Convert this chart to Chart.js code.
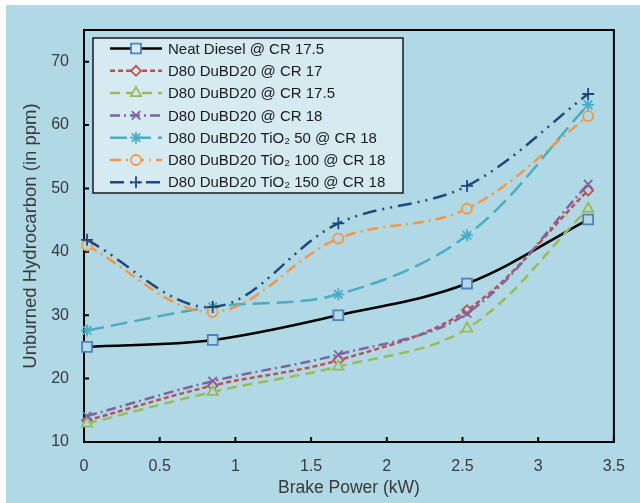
<!DOCTYPE html>
<html>
<head>
<meta charset="utf-8">
<script src="https://cdn.jsdelivr.net/npm/chart.js@4.4.0/dist/chart.umd.min.js"></script>
<style>
    html, body { margin: 0; padding: 0; background: #ffffff; }
    #wrap { width: 640px; height: 503px; }
</style>
</head>
<body>
<div id="wrap"><canvas id="hcChart" width="640" height="503"></canvas></div>
<script>
// ==========================================
// Unburned HC vs brake power
// ==========================================

const brakePower = [0.02, 0.85, 1.68, 2.53, 3.33];

const neatDiesel = [25.0, 26.1, 30.0, 35.0, 45.1];
const duBdCr17 = [13.4, 18.9, 22.9, 30.8, 49.7];
const duBdCr175 = [12.9, 17.9, 21.9, 27.9, 46.8];
const duBdCr18 = [14.1, 19.6, 23.8, 30.3, 50.7];
const tio2At50 = [27.6, 31.3, 33.3, 42.6, 63.2];
const tio2At100 = [41.0, 30.5, 42.1, 46.8, 61.4];
const tio2At150 = [41.9, 31.3, 44.5, 50.4, 64.9];

const seriesLabels = [
    "Neat Diesel @ CR 17.5",
    "D80 DuBD20 @ CR 17",
    "D80 DuBD20 @ CR 17.5",
    "D80 DuBD20 @ CR 18",
    "D80 DuBD20 TiO\u2082 50 @ CR 18",
    "D80 DuBD20 TiO\u2082 100 @ CR 18",
    "D80 DuBD20 TiO\u2082 150 @ CR 18"
];

const xTicks = [0, 0.5, 1, 1.5, 2, 2.5, 3, 3.5];
const yTicks = [10, 20, 30, 40, 50, 60, 70];

const BG = "#B1D8E5";
const LEGEND_BG = "#D6EAF2";
const TEXT = "#3A3A3A";

Chart.defaults.font.family = '"Liberation Sans", Arial, sans-serif';

function toPoints(values) {
    return values.map((v, i) => ({ x: brakePower[i], y: v }));
}

function makeSeries(idx, values, lineColor, dash, style, radius, markerColor, hollow) {
    return {
        label: seriesLabels[idx],
        data: toPoints(values),
        borderColor: lineColor,
        borderWidth: 2.5,
        borderDash: dash,
        tension: 0.35,
        fill: false,
        clip: false,
        order: 10 - idx,
        pointStyle: style,
        pointRadius: radius,
        pointHoverRadius: radius,
        pointBorderColor: markerColor,
        pointBorderWidth: 1.8,
        pointBackgroundColor: hollow ? BG : markerColor,
        hollow: hollow
    };
}

const datasets = [
    makeSeries(0, neatDiesel, "#000000", [], "rect", 7, "#4F81BD", true),
    makeSeries(1, duBdCr17, "#C0504D", [5, 3], "rectRot", 5, "#C0504D", true),
    makeSeries(2, duBdCr175, "#9BBB59", [10, 6], "triangle", 6, "#9BBB59", true),
    makeSeries(3, duBdCr18, "#8064A2", [10, 4, 2, 4], "crossRot", 6, "#8064A2", false),
    makeSeries(4, tio2At50, "#4BACC6", [17, 7], "star", 6, "#4BACC6", false),
    makeSeries(5, tio2At100, "#F79646", [11, 5, 2, 5], "circle", 5, "#F79646", true),
    makeSeries(6, tio2At150, "#1F497D", [14, 6, 2, 6, 2, 6], "cross", 6, "#1F497D", false)
];

// page background (white strip top/left like the source image)
const backdrop = {
    id: "backdrop",
    beforeDraw(chart) {
        const ctx = chart.ctx;
        ctx.save();
        ctx.fillStyle = "#FFFFFF";
        ctx.fillRect(0, 0, chart.width, chart.height);
        ctx.fillStyle = BG;
        ctx.fillRect(6, 5, chart.width - 6, chart.height - 5);
        ctx.restore();
    }
};

// plot frame with inward tick marks
const frameTicks = {
    id: "frameTicks",
    beforeDatasetsDraw(chart) {
        const { ctx, chartArea: a, scales } = chart;
        ctx.save();
        ctx.strokeStyle = "#000000";
        ctx.lineWidth = 2;
        ctx.strokeRect(a.left, a.top, a.right - a.left, a.bottom - a.top);
        ctx.beginPath();
        xTicks.forEach(v => {
            const px = scales.x.getPixelForValue(v);
            ctx.moveTo(px, a.bottom);
            ctx.lineTo(px, a.bottom - 5);
        });
        yTicks.forEach(v => {
            const py = scales.y.getPixelForValue(v);
            ctx.moveTo(a.left, py);
            ctx.lineTo(a.left + 5, py);
        });
        ctx.stroke();
        ctx.restore();
    }
};

// boxed legend inside the plot
const legendBox = {
    id: "legendBox",
    afterDraw(chart) {
        const { ctx, chartArea: a } = chart;
        const left = a.left + 9;
        const top = a.top + 8;
        ctx.save();
        ctx.fillStyle = LEGEND_BG;
        ctx.fillRect(left, top, 310, 155);
        ctx.lineWidth = 1.5;
        ctx.strokeStyle = "#1A1A1A";
        ctx.strokeRect(left, top, 310, 155);

        chart.data.datasets.forEach((ds, i) => {
            const y = top + 10.5 + i * 22.3;
            ctx.setLineDash(ds.borderDash);
            ctx.strokeStyle = ds.borderColor;
            ctx.lineWidth = ds.borderWidth;
            ctx.beginPath();
            ctx.moveTo(left + 17, y);
            ctx.lineTo(left + 69, y);
            ctx.stroke();
            ctx.setLineDash([]);

            ctx.strokeStyle = ds.pointBorderColor;
            ctx.fillStyle = ds.hollow ? LEGEND_BG : ds.pointBorderColor;
            ctx.lineWidth = ds.pointBorderWidth;
            Chart.helpers.drawPoint(ctx, {
                pointStyle: ds.pointStyle,
                radius: ds.pointRadius,
                borderWidth: ds.pointBorderWidth,
                rotation: 0
            }, left + 43, y);

            ctx.fillStyle = "#1A1A1A";
            ctx.font = '15px "Liberation Sans", Arial, sans-serif';
            ctx.textBaseline = "middle";
            ctx.textAlign = "left";
            ctx.fillText(ds.label, left + 75, y + 1);
        });
        ctx.restore();
    }
};

const hcChart = new Chart(
    document.getElementById("hcChart"),
    {
        type: "line",

        data: {
            datasets: datasets
        },

        options: {
            responsive: false,
            maintainAspectRatio: false,
            animation: false,

            layout: {
                padding: { left: 0, right: 23, top: 30, bottom: 0 }
            },

            plugins: {
                legend: { display: false },
                tooltip: { enabled: false }
            },

            scales: {

                x: {
                    type: "linear",
                    min: 0,
                    max: 3.5,
                    afterBuildTicks: s => { s.ticks = xTicks.map(v => ({ value: v })); },
                    afterFit: s => { s.height = 61; },
                    grid: { display: false, drawTicks: false },
                    border: { display: false },
                    ticks: {
                        color: TEXT,
                        font: { size: 16 },
                        padding: 15,
                        maxRotation: 0,
                        callback: v => String(v)
                    },
                    title: {
                        display: true,
                        text: "Brake Power (kW)",
                        color: TEXT,
                        font: { size: 17.5 },
                        padding: { top: 0, bottom: 4 }
                    }
                },

                y: {
                    type: "linear",
                    min: 10,
                    max: 75,
                    afterBuildTicks: s => { s.ticks = yTicks.map(v => ({ value: v })); },
                    afterFit: s => { s.width = 84; },
                    grid: { display: false, drawTicks: false },
                    border: { display: false },
                    ticks: {
                        color: TEXT,
                        font: { size: 16 },
                        padding: 15,
                        callback: v => String(v)
                    },
                    title: {
                        display: true,
                        text: "Unburned Hydrocarbon (in ppm)",
                        color: TEXT,
                        font: { size: 18.5 },
                        padding: { top: 20, bottom: 0 }
                    }
                }

            }
        },

        plugins: [backdrop, frameTicks, legendBox]
    }
);
</script>
</body>
</html>
